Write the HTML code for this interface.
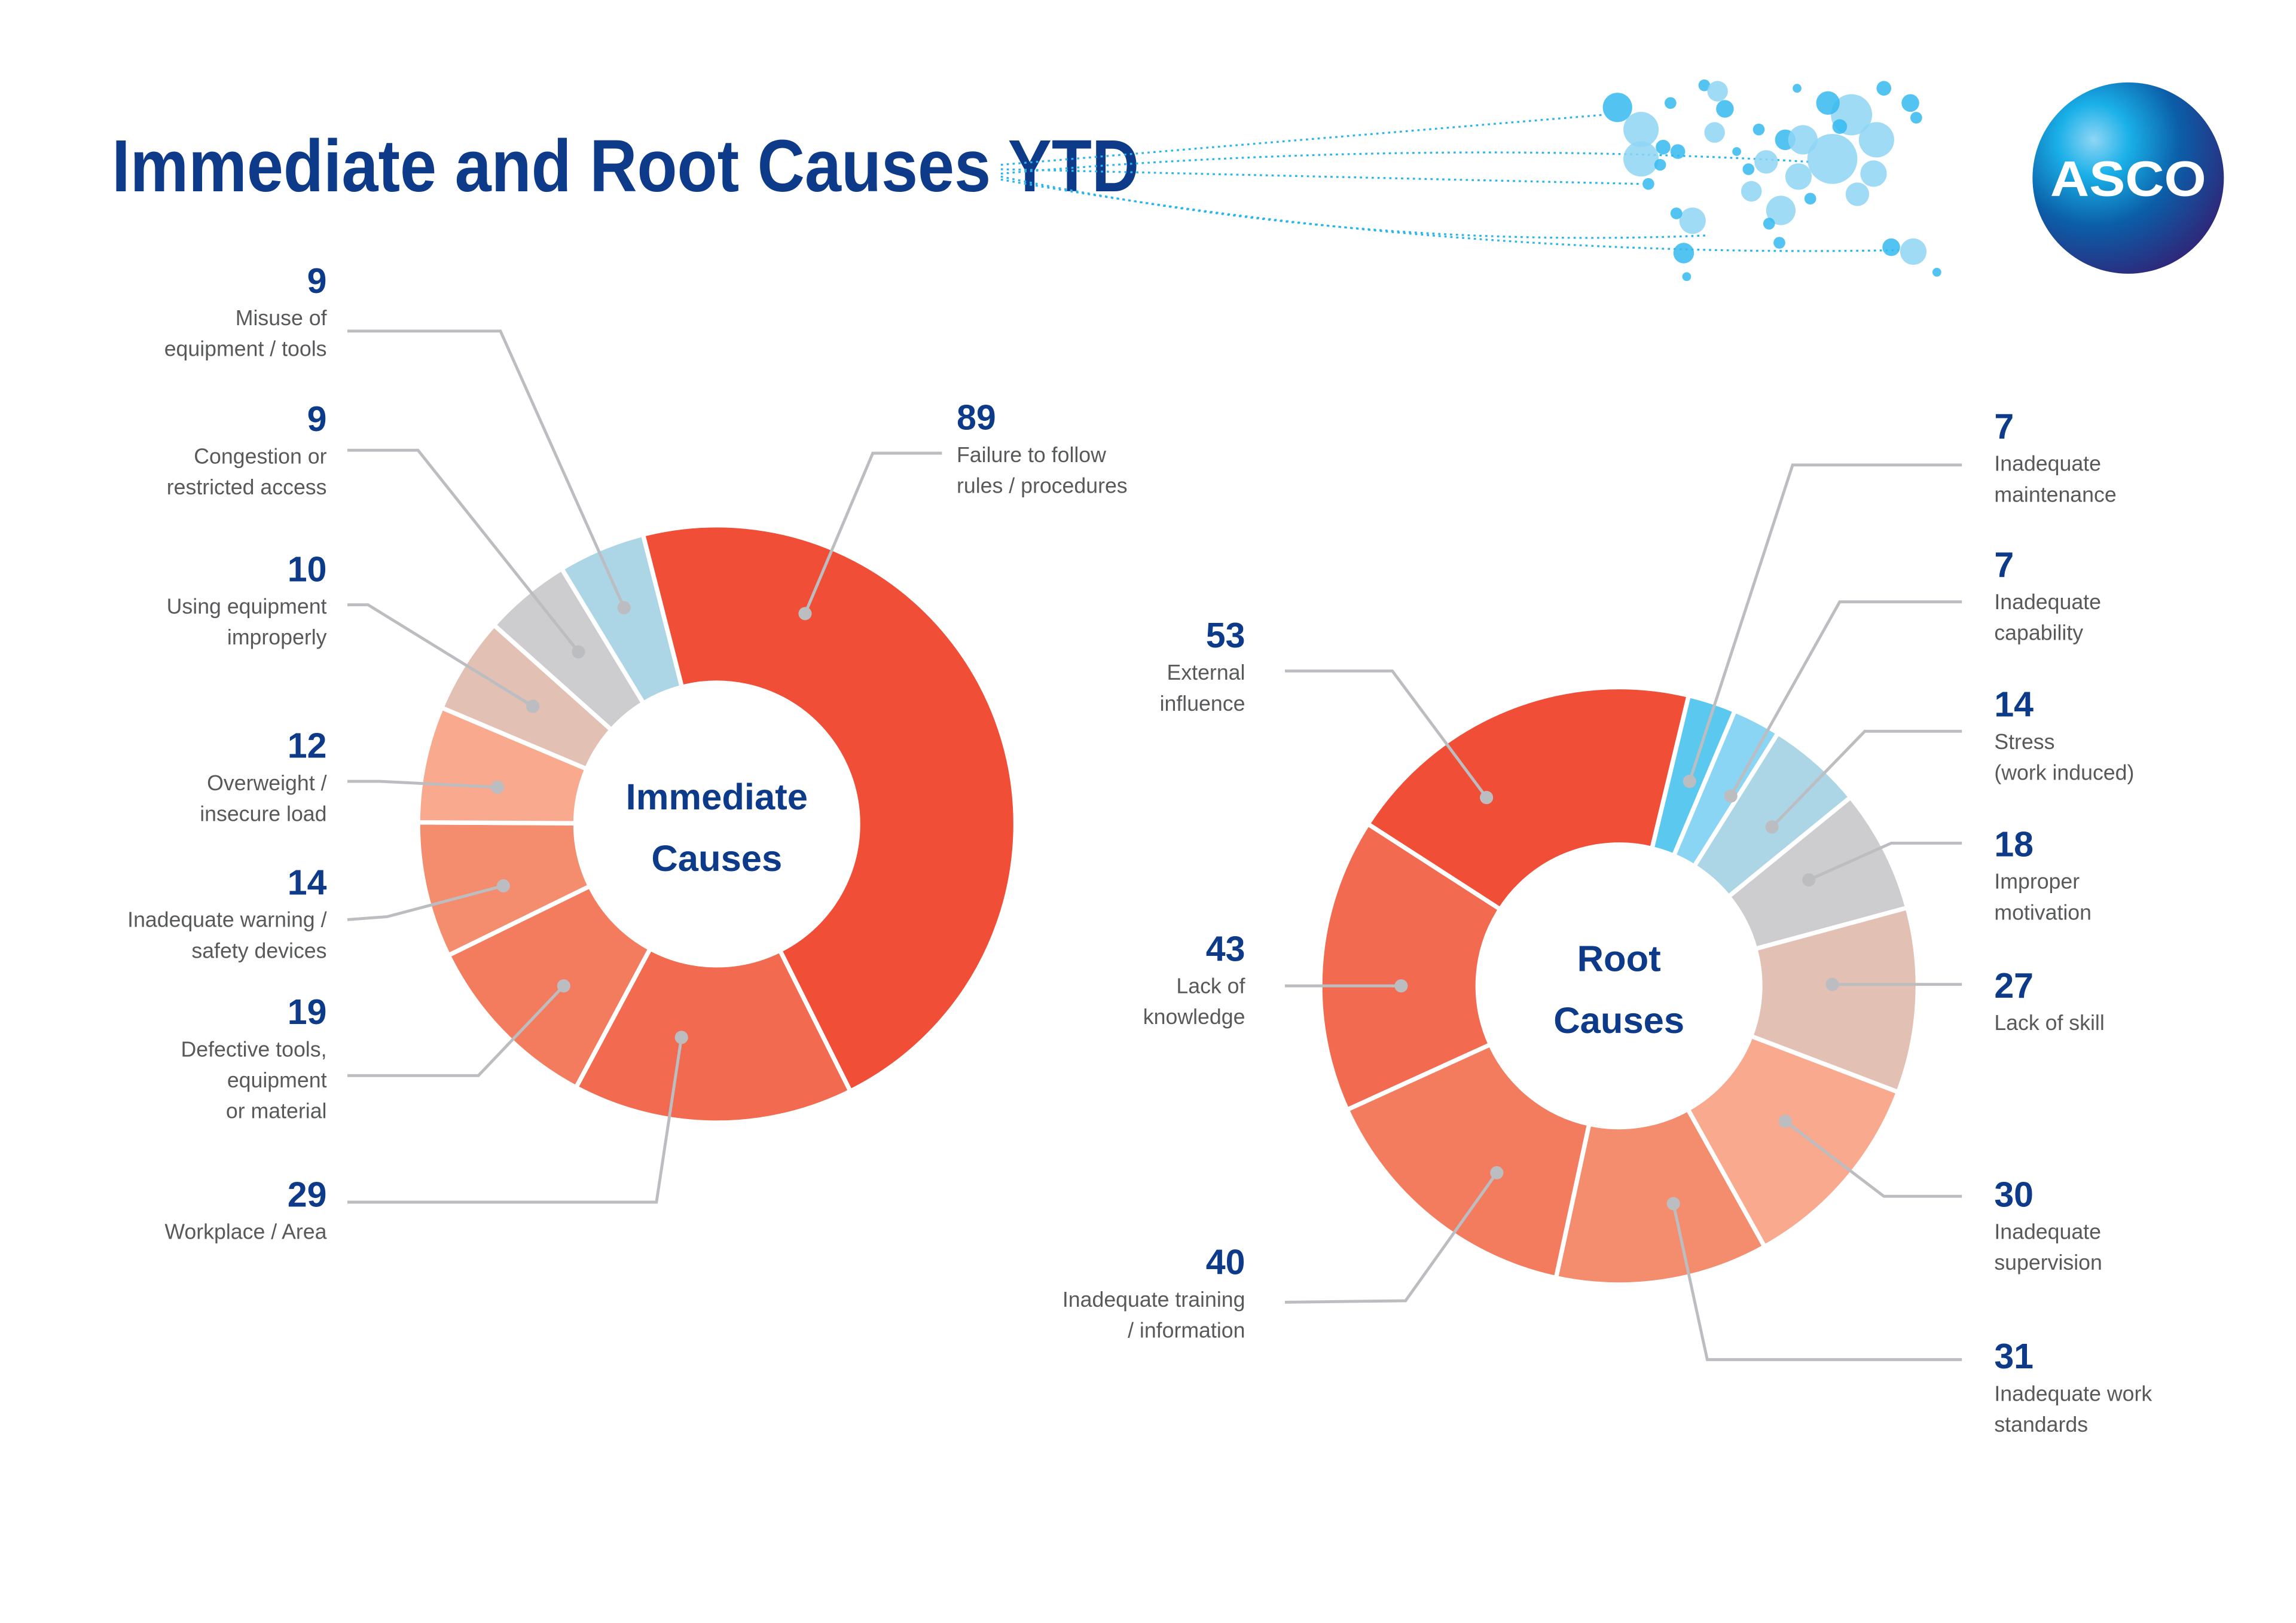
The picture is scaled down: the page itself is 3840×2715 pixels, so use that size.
<!DOCTYPE html>
<html><head><meta charset="utf-8"><style>
html,body{margin:0;padding:0;background:#fff;}
svg{display:block;}
text{font-family:"Liberation Sans",sans-serif;}
.num{font-weight:bold;fill:#0d3b8a;font-size:24px;}
.lab{fill:#58595b;font-size:14.5px;}
</style></head><body>
<svg id="chart" width="3840" height="2715" viewBox="0 0 1560 1103" xmlns="http://www.w3.org/2000/svg">
<defs>
<radialGradient id="lg" cx="0.32" cy="0.3" r="0.75">
<stop offset="0" stop-color="#8fd6f5"/><stop offset="0.25" stop-color="#1ab0e8"/><stop offset="0.6" stop-color="#0b5ea8"/><stop offset="1" stop-color="#2d2a7c"/>
</radialGradient>
</defs>
<text x="76" y="130" font-size="50" font-weight="bold" fill="#0d3b8a" textLength="698" lengthAdjust="spacingAndGlyphs">Immediate and Root Causes YTD</text>
<g id="map"></g>
<g>
<circle cx="1446" cy="121" r="65" fill="url(#lg)"/>
<text x="1446" y="133" text-anchor="middle" font-size="34" font-weight="bold" fill="#fff" textLength="106" lengthAdjust="spacingAndGlyphs">ASCO</text>
</g>
<g id="g1"></g>
<g id="g2"></g>
</svg>
<script>
// Immediate causes data
const immCategories=["Failure to follow rules / procedures","Workplace / Area","Defective tools, equipment or material","Inadequate warning / safety devices","Overweight / insecure load","Using equipment improperly","Congestion or restricted access","Misuse of equipment / tools"];
const immValues=[89,29,19,14,12,10,9,9];
// Root causes data
const rootCategories=["Inadequate maintenance","Inadequate capability","Stress (work induced)","Improper motivation","Lack of skill","Inadequate supervision","Inadequate work standards","Inadequate training / information","Lack of knowledge","External influence"];
const rootValues=[7,7,14,18,27,30,31,40,43,53];

const NS="http://www.w3.org/2000/svg";
function mk(tag,attrs,parent){const e=document.createElementNS(NS,tag);for(const k in attrs)e.setAttribute(k,attrs[k]);parent.appendChild(e);return e;}
function pt(cx,cy,r,a){const t=a*Math.PI/180;return [cx+r*Math.sin(t),cy-r*Math.cos(t)];}

function donut(gid,cx,cy,ro,ri,start,values,cats,colors,layout,center,name){
  const g=document.getElementById(gid);
  const total=values.reduce((a,b)=>a+b,0);
  let a=start;
  values.forEach((v,i)=>{
    const sweep=v/total*360,a2=a+sweep,large=sweep>180?1:0;
    const p1=pt(cx,cy,ro,a),p2=pt(cx,cy,ro,a2),p3=pt(cx,cy,ri,a2),p4=pt(cx,cy,ri,a);
    const p=mk('path',{d:`M${p1[0]},${p1[1]} A${ro},${ro} 0 ${large} 1 ${p2[0]},${p2[1]} L${p3[0]},${p3[1]} A${ri},${ri} 0 ${large} 0 ${p4[0]},${p4[1]} Z`,fill:colors[i],stroke:'#fff','stroke-width':3},g);
    
    
    a=a2;
  });
  values.forEach((v,i)=>{
    const L=layout[i],d=L.dot;
    const pts=L.line.concat([d]).map(q=>q.join(',')).join(' ');
    const pl=mk('polyline',{points:pts,fill:'none',stroke:'#bcbdc0','stroke-width':2},g);
    
    
    const c=mk('circle',{cx:d[0],cy:d[1],r:4.5,fill:'#bcbdc0'},g);
    
    
    const n=mk('text',{x:L.x,y:L.y,'text-anchor':L.anchor,class:'num'},g);
    n.textContent=v;
    
    
    L.lines.forEach((s,j)=>{
      const t=mk('text',{x:L.x,y:L.y+22+21*j,'text-anchor':L.anchor,class:'lab'},g);
      t.textContent=s;
      
      
    });
  });
  center.forEach((s,j)=>{
    const t=mk('text',{x:cx,y:cy-10+42*j,'text-anchor':'middle','font-size':25,'font-weight':'bold',fill:'#0d3b8a'},g);
    t.textContent=s;
    
    
  });
}
const immColors=['#f04e37','#f26a4f','#f37c5f','#f48c6e','#f8a98e','#e2c0b4','#cdcdcf','#acd5e6'];
donut('g1',487,560,203,96,-14.3,immValues,immCategories,immColors,[
 {x:650,y:292,anchor:'start',lines:['Failure to follow','rules / procedures'],line:[[640,308],[593,308]],dot:[547,417]},
 {x:222,y:820,anchor:'end',lines:['Workplace / Area'],line:[[236,817],[446,817]],dot:[463,705]},
 {x:222,y:696,anchor:'end',lines:['Defective tools,','equipment','or material'],line:[[236,731],[325,731]],dot:[383,670]},
 {x:222,y:608,anchor:'end',lines:['Inadequate warning /','safety devices'],line:[[236,625],[263,623]],dot:[342,602]},
 {x:222,y:515,anchor:'end',lines:['Overweight /','insecure load'],line:[[236,531],[258,531]],dot:[338,535]},
 {x:222,y:395,anchor:'end',lines:['Using equipment','improperly'],line:[[236,411],[250,411]],dot:[362,480]},
 {x:222,y:293,anchor:'end',lines:['Congestion or','restricted access'],line:[[236,306],[284,306]],dot:[393,443]},
 {x:222,y:199,anchor:'end',lines:['Misuse of','equipment / tools'],line:[[236,225],[340,225]],dot:[424,413]}
],['Immediate','Causes'],'immediate');
const rootColors=['#5bc8f0','#8ad5f3','#acd5e6','#cdcdcf','#e2c0b4','#f8a98e','#f48c6e','#f37c5f','#f26a4f','#f04e37'];
donut('g2',1100,670,203,96,13.5,rootValues,rootCategories,rootColors,[
 {x:1355,y:298,anchor:'start',lines:['Inadequate','maintenance'],line:[[1333,316],[1218,316]],dot:[1148,531]},
 {x:1355,y:392,anchor:'start',lines:['Inadequate','capability'],line:[[1333,409],[1250,409]],dot:[1176,541]},
 {x:1355,y:487,anchor:'start',lines:['Stress','(work induced)'],line:[[1333,497],[1267,497]],dot:[1204,562]},
 {x:1355,y:582,anchor:'start',lines:['Improper','motivation'],line:[[1333,573],[1285,573]],dot:[1229,598]},
 {x:1355,y:678,anchor:'start',lines:['Lack of skill'],line:[[1333,669]],dot:[1245,669]},
 {x:1355,y:820,anchor:'start',lines:['Inadequate','supervision'],line:[[1333,813],[1280,813]],dot:[1213,762]},
 {x:1355,y:930,anchor:'start',lines:['Inadequate work','standards'],line:[[1333,924],[1160,924]],dot:[1137,818]},
 {x:846,y:866,anchor:'end',lines:['Inadequate training','/ information'],line:[[873,885],[955,884]],dot:[1017,797]},
 {x:846,y:653,anchor:'end',lines:['Lack of','knowledge'],line:[[873,670]],dot:[952,670]},
 {x:846,y:440,anchor:'end',lines:['External','influence'],line:[[873,456],[946,456]],dot:[1010,542]}
],['Root','Causes'],'root');

// decorative map
const mg=document.getElementById('map');
[[680,112,1090,78,0],[680,115,1115,125,0],[680,118,1230,110,-20],[680,120,1160,160,30],[680,122,1290,170,30]].forEach(l=>{
  mk('path',{d:`M${l[0]},${l[1]} Q${(l[0]+l[2])/2},${(l[1]+l[3])/2+l[4]} ${l[2]},${l[3]}`,fill:'none',stroke:'#29b5ea','stroke-width':1.3,'stroke-dasharray':'1.5 2.5'},mg);
});
const bubbles=[[1099,73,10,1],[1115,88,12,0],[1115,108,12,0],[1130,100,5,1],[1140,103,5,1],[1128,112,4,1],[1120,125,4,1],[1135,70,4,1],[1158,58,4,1],[1167,62,7,0],[1172,74,6,1],[1165,90,7,0],[1150,150,9,0],[1144,172,7,1],[1146,188,3,1],[1180,103,3,1],[1190,130,7,0],[1200,110,8,0],[1213,95,7,1],[1225,95,10,0],[1222,120,9,0],[1210,143,10,0],[1209,165,4,1],[1245,108,17,0],[1258,78,14,0],[1242,70,8,1],[1275,95,12,0],[1273,118,9,0],[1262,132,8,0],[1298,70,6,1],[1300,171,9,0],[1285,168,6,1],[1316,185,3,1],[1250,86,5,1],[1195,88,4,1],[1230,135,4,1],[1188,115,4,1],[1139,145,4,1],[1202,152,4,1],[1221,60,3,1],[1280,60,5,1],[1302,80,4,1]];
bubbles.forEach(b=>{mk('circle',{cx:b[0],cy:b[1],r:b[2],fill:b[3]?'#35baf0':'#8fd5f5','fill-opacity':0.85},mg);});
</script>
</body></html>
